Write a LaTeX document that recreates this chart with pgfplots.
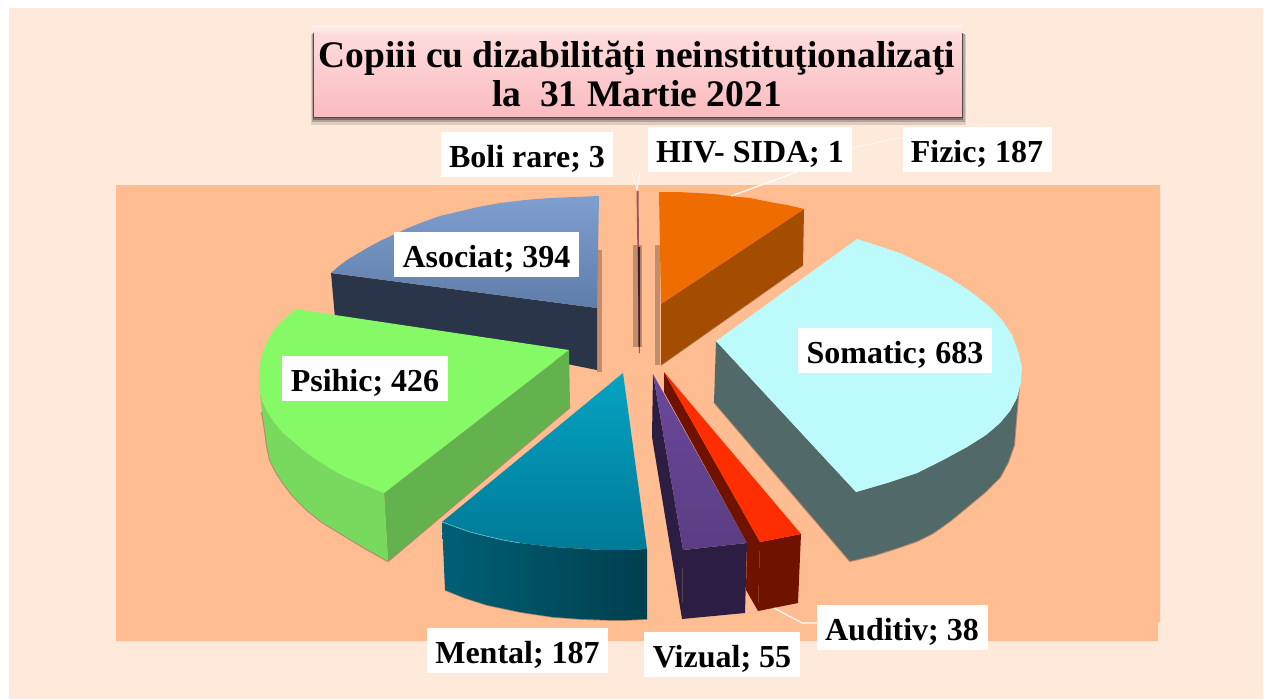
\documentclass[border=0pt]{standalone}
\usepackage{fontspec}
\setmainfont{Liberation Serif}
\usepackage{pgfplots}
\pgfplotsset{compat=1.18}
\definecolor{panel}{HTML}{FEE9DA}
\definecolor{plotbg}{HTML}{FFBD91}
\definecolor{titleA}{HTML}{FFDFDF}
\definecolor{titleB}{HTML}{FABBBF}
\definecolor{asocS}{HTML}{2A3549}
\definecolor{asocA}{HTML}{7F9FD0}
\definecolor{asocB}{HTML}{5F7DA8}
\definecolor{psiS}{HTML}{63B24E}
\definecolor{psiO}{HTML}{78D95F}
\definecolor{psiT}{HTML}{86FA66}
\definecolor{menL}{HTML}{005F75}
\definecolor{menR}{HTML}{003F4E}
\definecolor{menA}{HTML}{05A3C2}
\definecolor{menB}{HTML}{007A97}
\definecolor{vizS}{HTML}{2C1E42}
\definecolor{vizA}{HTML}{6A489B}
\definecolor{vizB}{HTML}{5B3D84}
\definecolor{audS}{HTML}{701200}
\definecolor{audT}{HTML}{FF2E00}
\definecolor{somS}{HTML}{516969}
\definecolor{somT}{HTML}{BDFAFB}
\definecolor{fizS}{HTML}{A44C00}
\definecolor{fizT}{HTML}{EE6C00}
\definecolor{boliT}{HTML}{A05060}
\definecolor{boliS}{HTML}{3A2030}
\definecolor{shad}{HTML}{B4876A}
\newcommand{\lab}[3]{\node[fill=white,inner xsep=0pt,inner ysep=0pt,minimum width=#3pt,minimum height=45pt,font=\bfseries\fontsize{32}{34}\selectfont] at (axis cs:#1) {\raisebox{-13pt}[0pt][0pt]{#2}};}
\begin{document}
\begin{tikzpicture}
\begin{axis}[hide axis,scale only axis,width=1266pt,height=699pt,xmin=0,xmax=1266,ymin=0,ymax=699,y dir=reverse,clip=true]
% background
\addplot[fill=white,draw=none] coordinates {(0,0)(1266,0)(1266,699)(0,699)} --cycle;
\addplot[fill=panel,draw=none] coordinates {(9,8)(1263,8)(1263,699)(9,699)} --cycle;
\addplot[fill=plotbg,draw=none] coordinates {(116,185)(1160,185)(1160,622)(1158,622)(1158,641)(116,641)} --cycle;
% title box
\addplot[fill=black,draw=none,opacity=.12] coordinates {(311,34)(966,34)(966,125)(311,125)} --cycle;
\addplot[fill=black,draw=none,opacity=.2] coordinates {(312,34)(965,34)(965,122)(312,122)} --cycle;
\addplot[fill=black,draw=none,opacity=.3] coordinates {(313,34)(963,34)(963,120)(313,120)} --cycle;
\addplot[top color=titleA,bottom color=titleB,draw=none] coordinates {(313,25)(962,25)(962,117)(313,117)} --cycle;
\addplot[top color=panel!60!white,bottom color=titleA,draw=none] coordinates {(313,25)(962,25)(962,33)(313,33)} --cycle;
\addplot[black!70,line width=.8pt] coordinates {(313,33)(313,117)(962,117)(962,33)};
% shadows
\addplot[fill=black!70!plotbg,opacity=.35,draw=none] coordinates {(597,250)(602,250)(602,372)(597,372)} --cycle;
\addplot[fill=black!70!plotbg,opacity=.35,draw=none] coordinates {(633,245)(642,245)(642,347)(633,347)} --cycle;
\addplot[fill=black!70!plotbg,opacity=.35,draw=none] coordinates {(655,245)(660,245)(660,365)(655,365)} --cycle;
% Asociat
\addplot[fill=asocS,draw=none] coordinates {(331,273)(597,308)(597,370)(335,318)} --cycle;
\addplot[top color=asocA,bottom color=asocB,draw=none] coordinates {(331,273)(339,266)(347,260)(357,254)(367,248)(380,241)(393,235)(408,228)(423,222)(440,216)(457,212)(478,207)(500,203)(525,200)(550,198)(575,197)(599,196)(597,308)} --cycle;
% Psihic
\addplot[shad,line width=2pt] coordinates {(262,412)(265,430)(267,446)(270,460)(276,472)(283,483)(294,497)(307,510)(322,522)(340,533)(363,547)(388,561)(570,407)};
\addplot[fill=psiS,draw=none] coordinates {(569,350)(384,493)(388,561)(570,407)} --cycle;
\addplot[fill=psiO,draw=none] coordinates {(260,393)(263,403)(268,413)(275,423)(283,433)(295,443)(307,453)(320,462)(333,470)(346,477)(360,483)(372,488)(384,493)(388,561)(363,547)(340,533)(322,522)(307,510)(294,497)(283,483)(276,472)(270,460)(267,446)(265,430)(262,412)} --cycle;
\addplot[fill=psiT,draw=none] coordinates {(295,309)(569,350)(384,493)(372,488)(360,483)(346,477)(333,470)(320,462)(307,453)(295,443)(283,433)(275,423)(268,413)(263,403)(260,393)(259,378)(260,363)(263,351)(268,340)(273,331)(280,323)(287,316)} --cycle;
% Mental
\addplot[shad,line width=1.5pt] coordinates {(445,590)(465,598)(487,605)(520,612)(553,617)(580,619)(607,620)(627,620)(647,619)};
\addplot[left color=menL,right color=menR,draw=none] coordinates {(442,522)(456,527)(470,532)(486,536)(503,540)(520,543)(537,545)(553,547)(570,548)(587,549)(603,550)(625,550)(647,549)(647,619)(627,620)(607,620)(580,619)(553,617)(520,612)(487,605)(465,598)(445,590)} --cycle;
\addplot[top color=menA,bottom color=menB,draw=none] coordinates {(623,373)(647,549)(625,550)(603,550)(587,549)(570,548)(553,547)(537,545)(520,543)(503,540)(486,536)(470,532)(456,527)(442,522)} --cycle;
\addplot[menA!60!white,line width=.6pt] coordinates {(442,522)(456,527)(470,532)(486,536)(503,540)(520,543)};
% Vizual
\addplot[fill=vizS,draw=none] coordinates {(653,374)(683,550)(682,619)(652,437)} --cycle;
\addplot[fill=vizS,draw=none] coordinates {(683,550)(747,543)(745,613)(682,619)} --cycle;
\addplot[top color=vizA,bottom color=vizB,draw=none] coordinates {(653,374)(747,543)(683,550)} --cycle;
% Auditiv
\addplot[fill=audS,draw=none] coordinates {(664,372)(664,392)(747,543)(746,590)(758,611)(760,542)} --cycle;
\addplot[fill=audS,draw=none] coordinates {(760,542)(801,534)(798,603)(758,611)} --cycle;
\addplot[fill=audT,draw=none] coordinates {(664,372)(801,534)(760,542)} --cycle;
% Somatic
\addplot[shad,line width=2pt] coordinates {(714,402)(850,561)(875,555)(900,547)(917,541)(933,533)(950,521)(967,507)(985,492)(1000,477)(1008,462)(1014,445)(1016,420)(1019,385)};
\addplot[fill=somS,draw=none] coordinates {(716,341)(856,492)(887,483)(917,473)(943,460)(967,447)(986,435)(1000,423)(1010,411)(1017,398)(1019,385)(1016,420)(1014,445)(1008,462)(1000,477)(985,492)(967,507)(950,521)(933,533)(917,541)(900,547)(875,555)(850,561)(714,402)} --cycle;
\addplot[fill=somT,draw=none] coordinates {(857,239)(879,246)(900,253)(925,265)(950,278)(971,292)(990,307)(1002,320)(1012,335)(1018,351)(1022,367)(1021,382)(1017,398)(1010,411)(1000,423)(986,435)(967,447)(943,460)(917,473)(887,483)(856,492)(716,341)} --cycle;
% Fizic
\addplot[shad,line width=1.5pt] coordinates {(661,365)(803,265)};
\addplot[fill=fizS,draw=none] coordinates {(661,304)(804,209)(803,265)(661,365)} --cycle;
\addplot[fill=fizT,draw=none] coordinates {(659,192)(678,192)(697,193)(714,194)(730,196)(750,198)(770,202)(787,205)(804,209)(661,304)} --cycle;
% Boli rare and HIV slivers
\addplot[fill=boliT,draw=none] coordinates {(636.5,191)(638.5,191)(640,353)(639,353)} --cycle;
\addplot[fill=boliS,draw=none] coordinates {(638,247)(640,247)(640,347)(638.5,347)} --cycle;
% leader lines
\addplot[white,line width=1.2pt] coordinates {(731,196)(797,172)};
\addplot[white!60!panel,line width=1pt] coordinates {(797,172)(853,148)(903,137)};
\addplot[white,line width=1.2pt] coordinates {(774,608)(802,623)(817,623)};
\addplot[white,line width=.8pt] coordinates {(632,172)(637,190)(640,172)};
% labels
\lab{486.5,254.5}{Asociat; 394}{185}
\lab{365,378}{Psihic; 426}{166}
\lab{895,350.5}{Somatic; 683}{194}
\lab{517.5,650}{Mental; 187}{181}
\lab{722,654}{Vizual; 55}{156}
\lab{902,627}{Auditiv; 38}{171}
\lab{977,149.5}{Fizic; 187}{149}
\lab{750,149.5}{HIV- SIDA; 1}{204}
\lab{527,154}{Boli rare; 3}{172}
\node[align=center,font=\bfseries\fontsize{37.5}{39}\selectfont] at (axis cs:637,74) {Copiii cu dizabilităţi neinstituţionalizaţi\\la~~31 Martie 2021};
\end{axis}
\end{tikzpicture}
\end{document}
